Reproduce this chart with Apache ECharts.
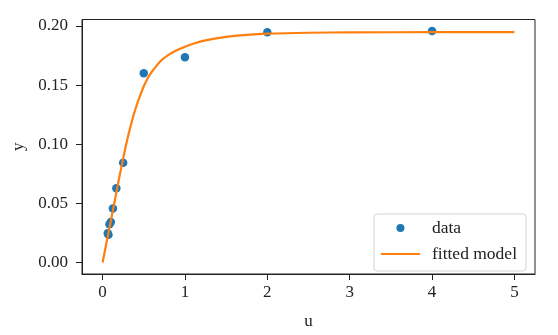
<!DOCTYPE html>
<html>
<head>
<meta charset="utf-8">
<script src="https://cdn.jsdelivr.net/npm/echarts@6/dist/echarts.min.js"></script>
<style>html,body{margin:0;padding:0;background:#fff}#c{width:558px;height:335px}</style>
</head>
<body>
<div id="c"></div>
<script>
const dataU = [4, 2, 1, 0.5, 0.25, 0.167, 0.125, 0.1, 0.0833, 0.0714, 0.0625];
const dataY = [0.1957, 0.1947, 0.1735, 0.16, 0.0844, 0.0627, 0.0456, 0.0342, 0.0323, 0.0235, 0.0246];
const fitU = [0, 0.05, 0.1, 0.15, 0.2, 0.25, 0.3, 0.35, 0.4, 0.45, 0.5, 0.55, 0.6, 0.7, 0.8, 0.9, 1.0, 1.1, 1.25, 1.5, 1.75, 2, 2.5, 3, 4, 5];
const fitY = [0, 0.0175, 0.035, 0.053, 0.071, 0.088, 0.104, 0.118, 0.130, 0.140, 0.149, 0.156, 0.1615, 0.170, 0.1755, 0.1795, 0.1825, 0.185, 0.1878, 0.1908, 0.1925, 0.1935, 0.1943, 0.1946, 0.1948, 0.1949];
const xTicks = [0, 1, 2, 3, 4, 5];
const yTicks = [0, 0.05, 0.10, 0.15, 0.20];

const font = 'Liberation Serif, DejaVu Serif, serif';
const fs = 17;
const chart = echarts.init(document.getElementById('c'), null, {renderer: 'canvas'});
chart.setOption({
  animation: false,
  backgroundColor: '#fff',
  grid: {left: 82, right: 23, top: 19.5, bottom: 55.5, show: true, borderColor: '#222', borderWidth: 1, backgroundColor: 'transparent'},
  xAxis: {
    type: 'value', min: -0.25, max: 5.25,
    name: 'u', nameLocation: 'middle', nameGap: 39,
    nameTextStyle: {fontFamily: font, fontSize: fs, color: '#222'},
    axisLine: {show: true, onZero: false, lineStyle: {color: '#222', width: 1}},
    axisTick: {show: true, inside: false, length: 6, customValues: xTicks, lineStyle: {color: '#222', width: 1}},
    axisLabel: {customValues: xTicks, margin: 10, fontFamily: font, fontSize: fs, color: '#222', formatter: v => String(Math.round(v))},
    splitLine: {show: false}
  },
  yAxis: {
    type: 'value', min: -0.0098, max: 0.2055,
    name: 'y', nameLocation: 'middle', nameGap: 53, nameRotate: 90,
    nameTextStyle: {fontFamily: font, fontSize: fs, color: '#222'},
    axisLine: {show: true, onZero: false, lineStyle: {color: '#222', width: 1}},
    axisTick: {show: true, inside: false, length: 6, customValues: yTicks, lineStyle: {color: '#222', width: 1}},
    axisLabel: {customValues: yTicks, margin: 14, fontFamily: font, fontSize: fs, color: '#222', padding: [2, 0, 0, 0], formatter: v => v.toFixed(2)},
    splitLine: {show: false}
  },
  legend: {
    orient: 'vertical', right: 32, bottom: 64,
    itemWidth: 39, itemHeight: 8, itemGap: 8,
    padding: [5, 9, 8, 7],
    backgroundColor: 'rgba(255,255,255,0.85)', borderColor: '#d4d4d4', borderWidth: 1, borderRadius: 3,
    textStyle: {fontFamily: font, fontSize: 17.5, color: '#222', lineHeight: 18, padding: [0, 0, 0, 7]},
    data: [
      {name: 'data', icon: 'circle', itemStyle: {color: '#1f77b4', opacity: 1}},
      {name: 'fitted model', icon: 'path://M0,0L39,0L39,2.2L0,2.2Z', itemStyle: {color: '#ff7f0e'}}
    ]
  },
  series: [
    {
      name: 'data', type: 'scatter', symbol: 'circle', symbolSize: 8.5,
      itemStyle: {color: '#1f77b4', opacity: 1},
      data: dataU.map((u, i) => [u, dataY[i]])
    },
    {
      name: 'fitted model', type: 'line', smooth: 0.3, showSymbol: false, symbol: 'none',
      lineStyle: {color: '#ff7f0e', width: 2.2},
      itemStyle: {color: '#ff7f0e'},
      data: fitU.map((u, i) => [u, fitY[i]])
    }
  ]
});
</script>
</body>
</html>
